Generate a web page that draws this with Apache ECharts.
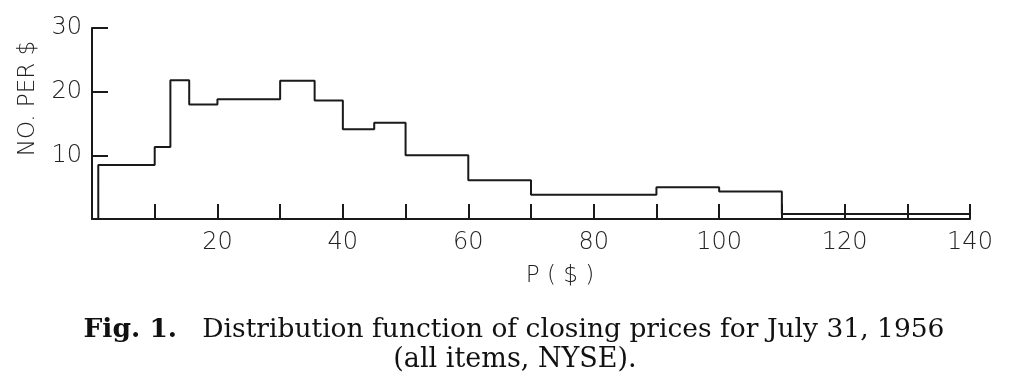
<!DOCTYPE html>
<html>
<head>
<meta charset="utf-8">
<script src="https://cdn.jsdelivr.net/npm/echarts@6/dist/echarts.min.js"></script>
<style>
  html, body { margin: 0; padding: 0; background: #fff; }
  #chart { width: 1024px; height: 387px; }
</style>
</head>
<body>
<div id="chart"></div>
<script>
// Histogram bin edges (price, $) and heights (number per $)
const binEdges = [1, 10, 12.5, 15.5, 20, 30, 35.5, 40, 45, 50, 60, 70, 90, 100, 110, 140];
const binHeights = [8.5, 11.3, 21.8, 18.0, 18.8, 21.7, 18.6, 14.1, 15.1, 10.0, 6.1, 3.8, 5.0, 4.3, 0.8];
const xTickLabels = [20, 40, 60, 80, 100, 120, 140];
const yTickLabels = [10, 20, 30];
const captionLine1 = 'Distribution function of closing prices for July 31, 1956';
const captionLine2 = '(all items, NYSE).';

// Build the step outline from the bins
const outline = [[binEdges[0], 0]];
for (let i = 0; i < binHeights.length; i++) {
  outline.push([binEdges[i], binHeights[i]]);
  outline.push([binEdges[i + 1], binHeights[i]]);
}
outline.push([binEdges[binEdges.length - 1], 0]);

const ink = '#1a1a1a';
const labelFont = { fontFamily: 'DejaVu Sans', fontWeight: 200, fontSize: 24, color: '#222' };

const chart = echarts.init(document.getElementById('chart'), null, { renderer: 'canvas' });
chart.setOption({
  animation: false,
  backgroundColor: '#fff',
  grid: { left: 92, right: 54, top: 28, bottom: 168, containLabel: false },
  title: [
    {
      text: '{b|Fig. 1.}   ' + captionLine1,
      left: 509, top: 312, textAlign: 'center',
      textStyle: {
        fontFamily: 'DejaVu Serif', fontSize: 26.5, fontWeight: 'normal', color: '#111',
        rich: { b: { fontFamily: 'DejaVu Serif', fontSize: 26.5, fontWeight: 'bold', color: '#111' } }
      }
    },
    {
      text: captionLine2,
      left: 510, top: 341, textAlign: 'center',
      textStyle: { fontFamily: 'DejaVu Serif', fontSize: 27, fontWeight: 'normal', color: '#111' }
    }
  ],
  xAxis: {
    type: 'value', min: 0, max: 140, interval: 10,
    name: 'P ( $ )', nameLocation: 'middle', nameGap: 46,
    nameTextStyle: Object.assign({}, labelFont, { fontSize: 23, padding: [0, 0, 0, 58] }),
    axisLine: { show: true, onZero: false, lineStyle: { color: ink, width: 2 } },
    axisTick: { show: true, inside: true, length: 15, lineStyle: { color: ink, width: 2 } },
    axisLabel: Object.assign({}, labelFont, {
      margin: 12,
      formatter: v => (xTickLabels.indexOf(v) >= 0 ? String(v) : '')
    }),
    splitLine: { show: false }
  },
  yAxis: {
    type: 'value', min: 0, max: 30, interval: 10,
    name: 'NO. PER $', nameLocation: 'middle', nameGap: 52,
    nameTextStyle: Object.assign({}, labelFont, { fontSize: 23, padding: [0, 0, 0, 50] }),
    axisLine: { show: true, lineStyle: { color: ink, width: 2 } },
    axisTick: { show: true, inside: true, length: 16, lineStyle: { color: ink, width: 2 } },
    axisLabel: Object.assign({}, labelFont, {
      margin: 10,
      formatter: v => (yTickLabels.indexOf(v) >= 0 ? String(v) : '')
    }),
    splitLine: { show: false }
  },
  series: [{
    type: 'line',
    data: outline,
    showSymbol: false,
    symbol: 'none',
    lineStyle: { color: ink, width: 2 },
    silent: true
  }]
});
</script>
</body>
</html>
